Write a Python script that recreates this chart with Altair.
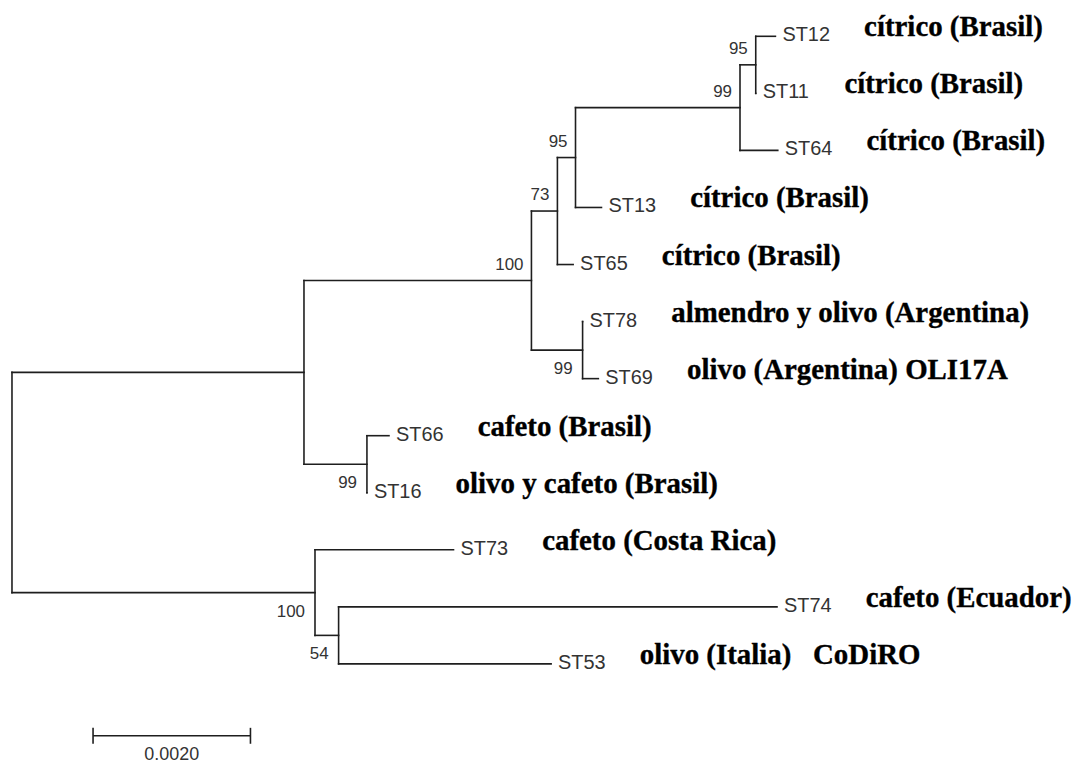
import altair as alt
import pandas as pd

# ---------------- data ----------------
tips = ["ST12", "ST11", "ST64", "ST13", "ST65", "ST78", "ST69",
        "ST66", "ST16", "ST73", "ST74", "ST53"]
hosts = ["cítrico (Brasil)", "cítrico (Brasil)", "cítrico (Brasil)",
         "cítrico (Brasil)", "cítrico (Brasil)",
         "almendro y olivo (Argentina)", "olivo (Argentina) OLI17A",
         "cafeto (Brasil)", "olivo y cafeto (Brasil)",
         "cafeto (Costa Rica)", "cafeto (Ecuador)",
         "olivo (Italia)\u00a0\u00a0\u00a0CoDiRO"]

edge_parent = ["root", "A", "B", "C", "D", "E", "F", "F", "E", "D", "C",
               "B", "G", "G", "A", "H", "H", "root", "I", "I", "J", "J"]
edge_child = ["A", "B", "C", "D", "E", "F", "ST12", "ST11", "ST64", "ST13",
              "ST65", "G", "ST78", "ST69", "H", "ST66", "ST16", "I", "ST73",
              "J", "ST74", "ST53"]
edge_length = [0.00371, 0.00289, 0.00033, 0.00023, 0.00209, 0.00020,
               0.00025, 0.00000, 0.00048, 0.00033, 0.00020, 0.00065,
               0.00000, 0.00020, 0.00080, 0.00028, 0.00000, 0.00385,
               0.00176, 0.00030, 0.00557, 0.00270]

boot_node = ["F", "E", "D", "C", "B", "G", "H", "I", "J"]
boot_value = [95, 99, 95, 73, 100, 99, 99, 100, 54]
boot_side = ["above", "above", "above", "above", "above",
             "below", "below", "below", "below"]

scale_bar_start = 0.00103
scale_bar_length = 0.0020
scale_bar_label = "0.0020"

# ---------------- tree layout ----------------
children = {}
blen = {}
for p, c, l in zip(edge_parent, edge_child, edge_length):
    children.setdefault(p, []).append(c)
    blen[c] = l

depth = {"root": 0.0}
order = ["root"]
i = 0
while i < len(order):
    n = order[i]
    for c in children.get(n, []):
        depth[c] = depth[n] + blen[c]
        order.append(c)
    i += 1

ypos = {t: k for k, t in enumerate(tips)}
for n in reversed(order):
    if n in children:
        ys_ = [ypos[c] for c in children[n]]
        ypos[n] = (min(ys_) + max(ys_)) / 2.0

segs = []
for p, c in zip(edge_parent, edge_child):
    segs.append({"x": depth[p], "x2": depth[c], "y": ypos[c], "y2": ypos[c]})
for n, ch in children.items():
    ys_ = [ypos[c] for c in ch]
    segs.append({"x": depth[n], "x2": depth[n], "y": min(ys_), "y2": max(ys_)})
seg_df = pd.DataFrame(segs)

tip_df = pd.DataFrame({"x": [depth[t] for t in tips],
                       "y": [ypos[t] for t in tips],
                       "tip": tips, "host": hosts})

boot_df = pd.DataFrame({"x": [depth[n] for n in boot_node],
                        "y": [ypos[n] for n in boot_node],
                        "v": [str(v) for v in boot_value],
                        "side": boot_side})

sb_y = len(tips) - 1 + 1.26
sb_df = pd.DataFrame({"x": [scale_bar_start],
                      "x2": [scale_bar_start + scale_bar_length],
                      "y": [sb_y], "label": [scale_bar_label],
                      "xm": [scale_bar_start + scale_bar_length / 2]})
sb_ticks = pd.DataFrame({"x": [scale_bar_start, scale_bar_start + scale_bar_length],
                         "y": [sb_y, sb_y]})

# ---------------- scales ----------------
W, H = 1069, 755
xs = alt.Scale(domain=[-0.0000506, 0.013481], nice=False, zero=False)
ys = alt.Scale(domain=[-0.4714, 12.712], nice=False, zero=False, reverse=True)

X = lambda f: alt.X(f, type="quantitative", scale=xs, axis=None)
Y = lambda f: alt.Y(f, type="quantitative", scale=ys, axis=None)

LINE = "#1e1e1e"
SANS = "Liberation Sans"
GREY = "#333333"

branches = alt.Chart(seg_df).mark_rule(
    color=LINE, strokeWidth=1.6, strokeCap="square"
).encode(x=X("x"), x2="x2", y=Y("y"), y2="y2")

tip_text = alt.Chart(tip_df).mark_text(
    align="left", baseline="middle", dx=7, dy=-1,
    font=SANS, fontSize=20, color=GREY
).encode(x=X("x"), y=Y("y"), text="tip:N")

host_text = alt.Chart(tip_df).mark_text(
    align="left", baseline="alphabetic", dx=89, dy=0,
    font="Liberation Serif", fontWeight="bold", fontSize=29,
    color="#000000", stroke="#000000", strokeWidth=0.35
).encode(x=X("x"), y=Y("y"), text="host:N")

boot_above = alt.Chart(boot_df).transform_filter(
    alt.datum.side == "above"
).mark_text(
    align="right", baseline="middle", dx=-8, dy=-16,
    font=SANS, fontSize=17, color=GREY
).encode(x=X("x"), y=Y("y"), text="v:N")

boot_below = alt.Chart(boot_df).transform_filter(
    alt.datum.side == "below"
).mark_text(
    align="right", baseline="middle", dx=-10, dy=19,
    font=SANS, fontSize=17, color=GREY
).encode(x=X("x"), y=Y("y"), text="v:N")

sb_line = alt.Chart(sb_df).mark_rule(color=LINE, strokeWidth=1.6).encode(
    x=X("x"), x2="x2", y=Y("y"))
sb_tick = alt.Chart(sb_ticks).mark_rule(
    color=LINE, strokeWidth=1.6, yOffset=-8, y2Offset=8
).encode(x=X("x"), y=Y("y"), y2="y")
sb_text = alt.Chart(sb_df).mark_text(
    align="center", baseline="middle", dy=19,
    font=SANS, fontSize=18, color=GREY
).encode(x=X("xm"), y=Y("y"), text="label:N")

chart = alt.layer(
    branches, tip_text, host_text, boot_above, boot_below,
    sb_line, sb_tick, sb_text
).properties(
    width=W, height=H, padding=0, autosize=alt.AutoSizeParams(type="none"),
    background="white"
).configure_view(stroke=None)

chart.save("out.html", embed_options={"renderer": "svg", "actions": False})
